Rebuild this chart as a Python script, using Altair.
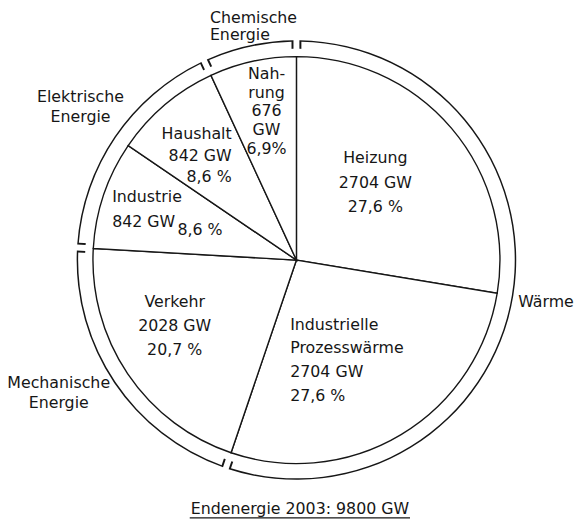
import altair as alt
import pandas as pd

# ---- data ----
slice_names = ["Heizung", "Industrielle Prozesswärme", "Verkehr", "Industrie", "Haushalt", "Nahrung"]
slice_display = ["Heizung", "Industrielle\nProzesswärme", "Verkehr", "Industrie", "Haushalt", "Nah-\nrung"]
gw_values = [2704, 2704, 2028, 842, 842, 676]
pct_values = ["27,6", "27,6", "20,7", "8,6", "8,6", "6,9"]
energy_groups = ["Wärme", "Wärme", "Mechanische\nEnergie", "Elektrische\nEnergie",
                 "Elektrische\nEnergie", "Chemische\nEnergie"]
title_text = "Endenergie 2003: 9800 GW"

# label formats (text layout only)
fmt = {
    "Nahrung": "{n}\n{v}\nGW\n{p}%",
    "Industrie": "{n}\n{v} GW",
}
default_fmt = "{n}\n{v} GW\n{p} %"

labels = [fmt.get(s, default_fmt).format(n=d, v=v, p=p)
          for s, d, v, p in zip(slice_names, slice_display, gw_values, pct_values)]

df = pd.DataFrame({
    "idx": list(range(len(slice_names))),
    "name": slice_names,
    "gw": gw_values,
    "pct": [p + " %" for p in pct_values],
    "label": labels,
    "group": energy_groups,
})

FONT = "DejaVu Sans"
INK = "#161616"
CX, CY = 292, 252
X = alt.value(CX)
Y = alt.value(CY)
PIE_R = 206

base = (
    alt.Chart(df)
    .transform_joinaggregate(total="sum(gw)")
    .transform_window(cum="sum(gw)", sort=[alt.SortField("idx")], frame=[None, 0])
    .transform_calculate(a1="datum.cum / datum.total * 2 * PI")
    .transform_calculate(a0="(datum.cum - datum.gw) / datum.total * 2 * PI")
    .transform_calculate(mid="(datum.a0 + datum.a1) / 2")
)

groups = (
    base.transform_aggregate(g0="min(a0)", g1="max(a1)", groupby=["group"])
    .transform_calculate(gmid="(datum.g0 + datum.g1) / 2")
)

# bracket arcs: black band, then white band with a larger pad leaves hooks at the ends
bracket_black = groups.mark_arc(radius=222.5, radius2=214, padAngle=0.0194,
                                color=INK, stroke=None).encode(
    x=X, y=Y, theta=alt.Theta("g0:Q", scale=None), theta2=alt.Theta2("g1:Q"))
bracket_white = groups.mark_arc(radius=221, radius2=211, padAngle=0.0327,
                                color="white", stroke=None).encode(
    x=X, y=Y, theta=alt.Theta("g0:Q", scale=None), theta2=alt.Theta2("g1:Q"))

pie = base.mark_arc(radius=PIE_R, fill="white", stroke=INK, strokeWidth=1.4).encode(
    x=X, y=Y, theta=alt.Theta("a0:Q", scale=None), theta2=alt.Theta2("a1:Q"))


def n_lines(s):
    return s.count("\n") + 1


def slice_text(name, field, radius, dx, dy, align="center", lh=24, size=16):
    row = df[df["name"] == name].iloc[0]
    shift = (n_lines(row[field]) - 1) * lh / 2
    return base.transform_filter(alt.datum.name == name).mark_text(
        radius=radius, dx=dx, dy=dy - shift, align=align, baseline="middle",
        lineBreak="\n", lineHeight=lh, font=FONT, fontSize=size, color=INK,
    ).encode(x=X, y=Y, theta=alt.Theta("mid:Q", scale=None), text=alt.Text(f"{field}:N"))


def group_text(group, radius, dx, dy, align="center", lh=20, size=16):
    shift = (n_lines(group) - 1) * lh / 2
    return groups.transform_filter(alt.datum.group == group).mark_text(
        radius=radius, dx=dx, dy=dy - shift, align=align, baseline="middle",
        lineBreak="\n", lineHeight=lh, font=FONT, fontSize=size, color=INK,
    ).encode(x=X, y=Y, theta=alt.Theta("gmid:Q", scale=None), text=alt.Text("group:N"))


texts = [
    slice_text("Heizung", "label", 110, -4, -7, lh=25),
    slice_text("Industrielle Prozesswärme", "label", 116, -66, 2, align="left", lh=24),
    slice_text("Verkehr", "label", 139, -8, -11, lh=24),
    slice_text("Industrie", "label", 140, -54, -6, align="left", lh=26),
    slice_text("Industrie", "pct", 140, 35, 15),
    slice_text("Haushalt", "label", 140, 25, 1, align="right", lh=22),
    slice_text("Nahrung", "label", 150, 2, -4, lh=19),
    group_text("Chemische\nEnergie", 240, -36, -2, align="left", lh=18),
    group_text("Elektrische\nEnergie", 268, 3, -4),
    group_text("Mechanische\nEnergie", 277, -11, -20),
    group_text("Wärme", 256, 0, 1),
]

title = alt.Chart(pd.DataFrame({"t": [title_text]})).mark_text(
    font=FONT, fontSize=16, color=INK, align="center", baseline="alphabetic"
).encode(x=alt.value(295.5), y=alt.value(509), text="t:N")

underline = alt.Chart(pd.DataFrame({"t": [title_text]})).mark_rule(
    color=INK, strokeWidth=1.3
).encode(x=alt.value(184), x2=alt.value(407), y=alt.value(513))

chart = alt.layer(bracket_black, bracket_white, pie, *texts, title, underline).properties(
    width=574, height=515, padding=0, autosize=alt.AutoSizeParams(type="none"),
    background="white",
).configure_view(stroke=None)

chart.save("out.html", embed_options={"renderer": "svg", "actions": False})
